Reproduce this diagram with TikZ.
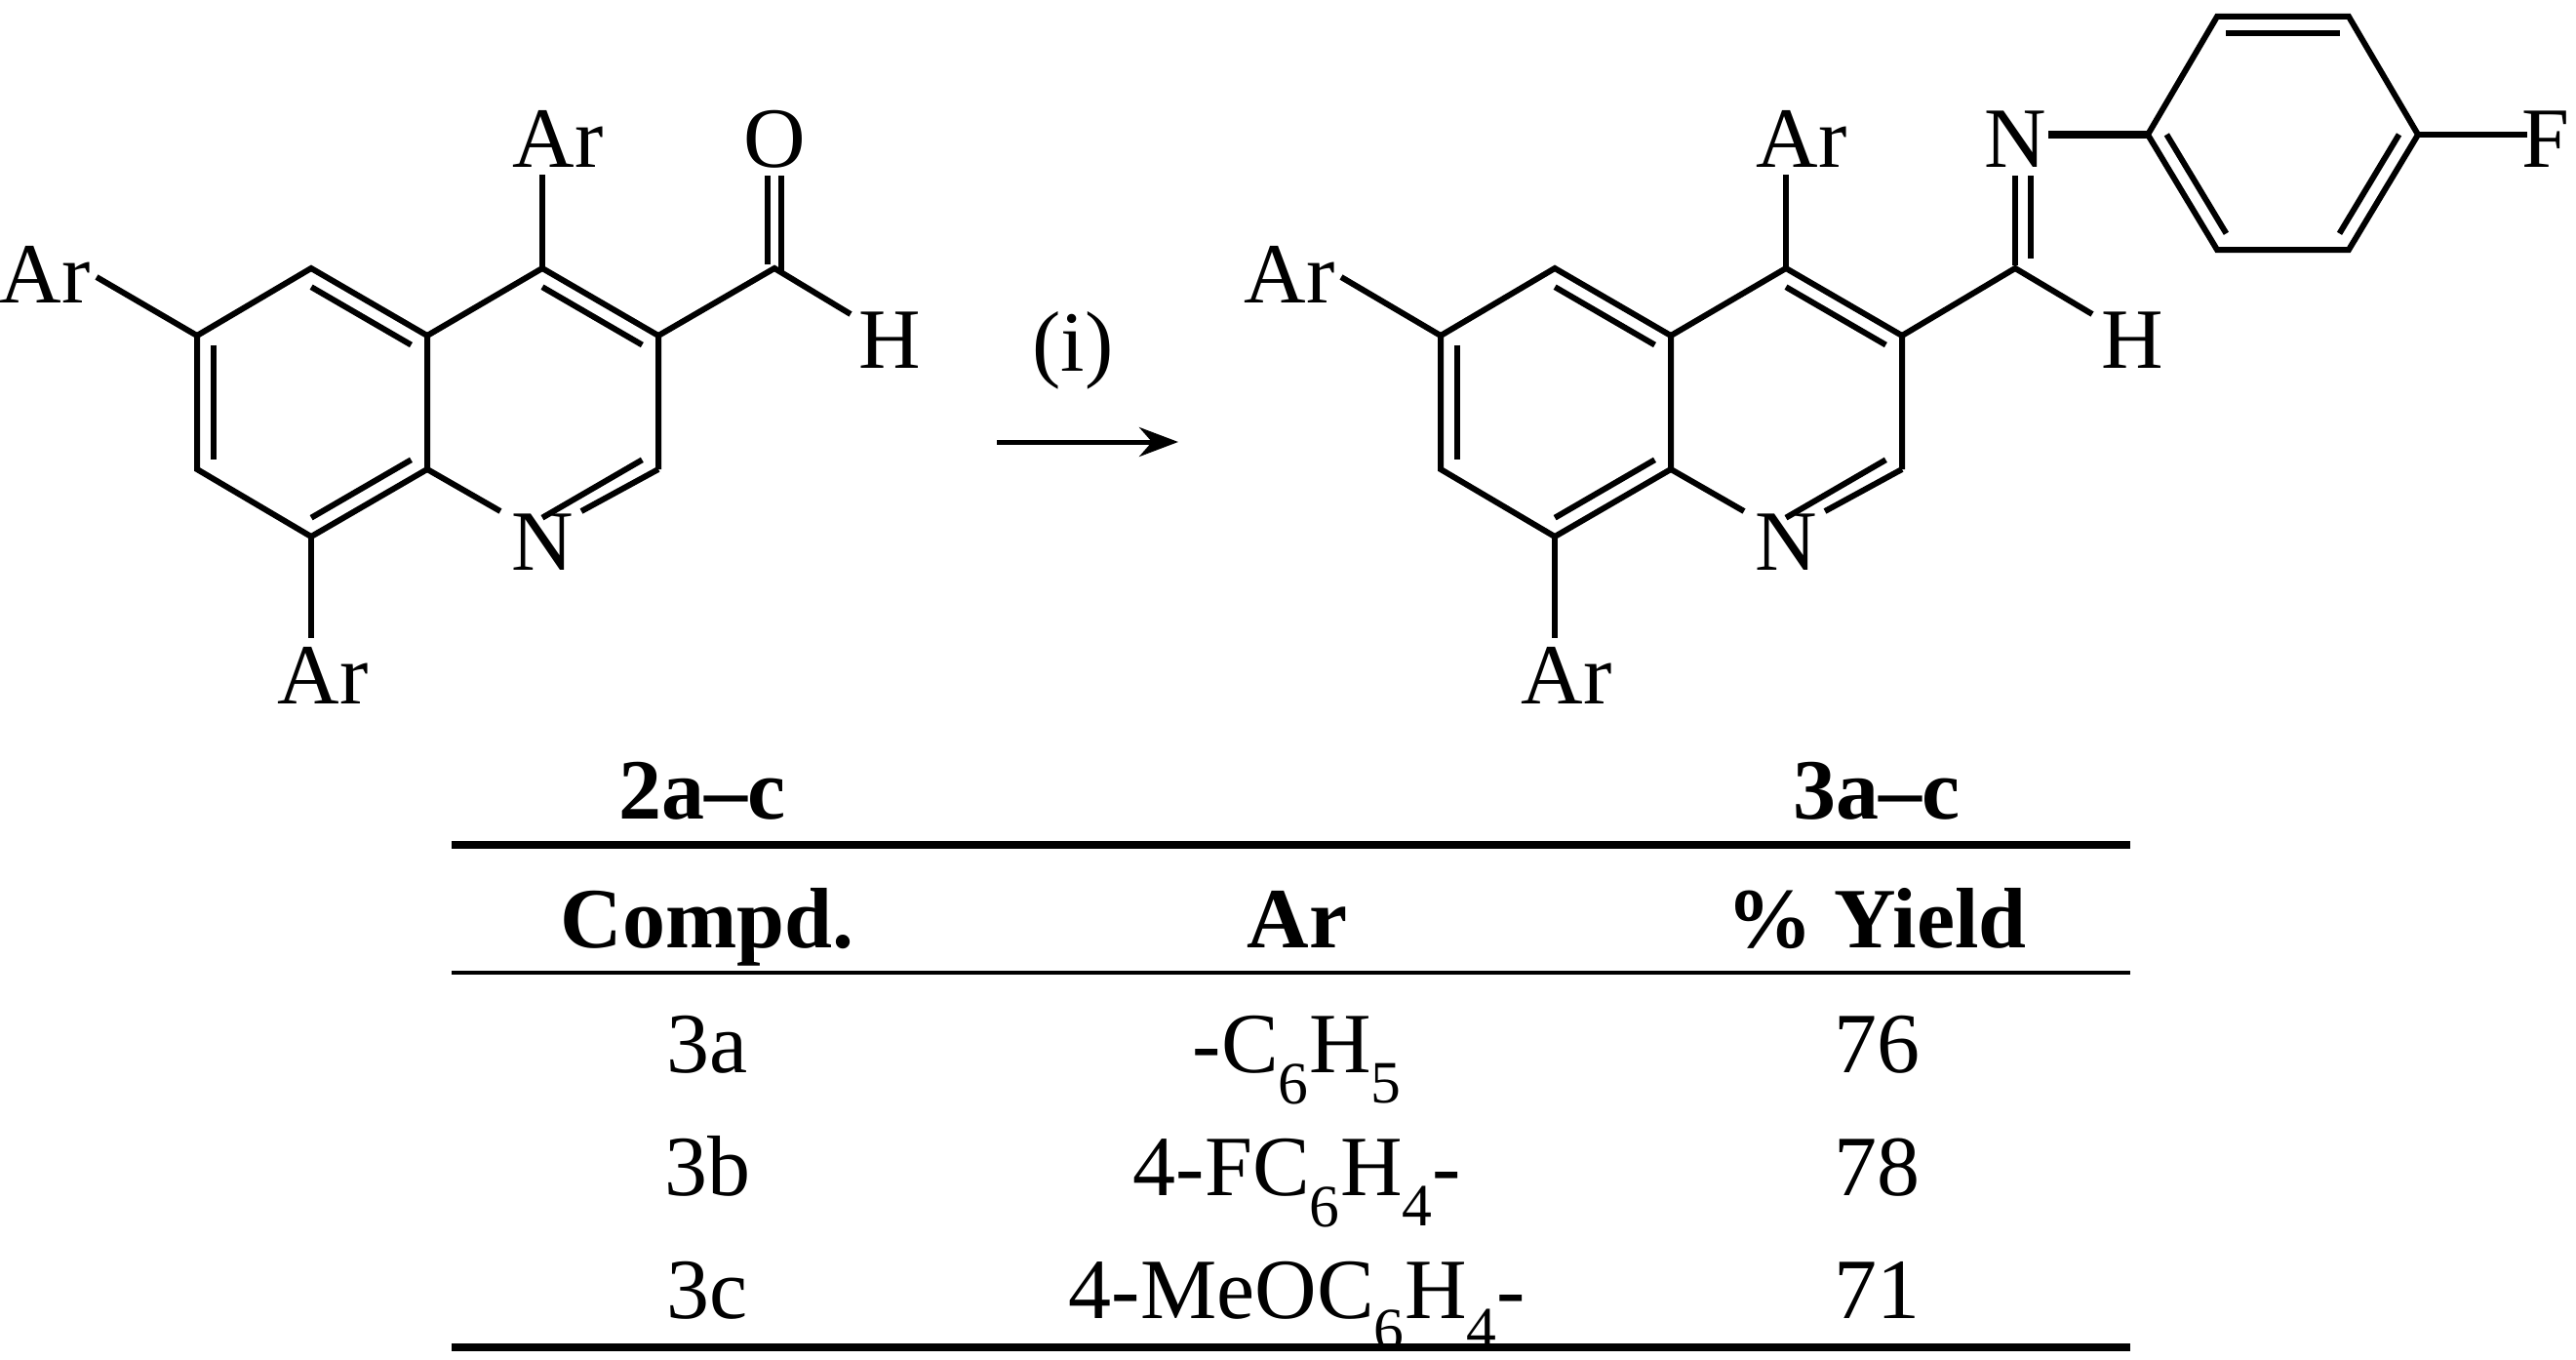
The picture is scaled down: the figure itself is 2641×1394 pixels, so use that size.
\documentclass[tikz,border=0pt]{standalone}
\usepackage{fontspec}
\setmainfont{Liberation Serif}
\usetikzlibrary{calc,arrows.meta}
\tikzset{bond/.style={line width=6pt,line cap=butt},
 lab/.style={font=\fontsize{88}{100}\selectfont,anchor=base,inner sep=0pt},
 blab/.style={lab,font=\fontsize{88}{100}\selectfont\bfseries}}
\newcommand\inner[3]{\draw[bond] ($(#3)!0.86!(#1)$) -- ($(#3)!0.86!(#2)$);}
\newcommand\quinol[2]{%
 \begin{scope}[shift={(#2,0)}]
 \coordinate (#1c5) at (319,275); \coordinate (#1c6) at (202,344);
 \coordinate (#1c7) at (202,481); \coordinate (#1c8) at (319,550);
 \coordinate (#1c8a) at (438,481); \coordinate (#1c4a) at (438,344);
 \coordinate (#1c4) at (556,275); \coordinate (#1c3) at (675,344);
 \coordinate (#1c2) at (675,481); \coordinate (#1n) at (556,550);
 \coordinate (#1ca) at (320,412); \coordinate (#1cb) at (556,412);
 \node[lab] (#1nl) at (556,584) {N};
 \node[lab] (#1ar4) at (572,171) {Ar};
 \node[lab] (#1ar8) at (331,721) {Ar};
 \coordinate (#1e4) at (556,179); \coordinate (#1e8) at (319,654);
 \coordinate (#1n1) at (513,524); \coordinate (#1n2) at (596,524);
 \draw[bond,line join=miter] (#1c4a) -- (#1c5) -- (#1c6) -- (#1c7) -- (#1c8) -- (#1c8a) -- cycle;
 \draw[bond,line join=miter] (#1c4a) -- (#1c4) -- (#1c3) -- (#1c2);
 \draw[bond] (#1c8a) -- (#1n1); \draw[bond] (#1c2) -- (#1n2);
 \inner{#1c5}{#1c4a}{#1ca} \inner{#1c6}{#1c7}{#1ca} \inner{#1c8}{#1c8a}{#1ca}
 \inner{#1c4}{#1c3}{#1cb} \inner{#1c2}{#1n}{#1cb}
 \draw[bond] (#1c4) -- (#1e4); \draw[bond] (#1c8) -- (#1e8);
 \end{scope}}
\begin{document}
\begin{tikzpicture}[x=1pt,y=-1pt]
\useasboundingbox (0,0) rectangle (2641,1394);
\fill[white] (0,0) rectangle (2641,1394);
% left molecule
\quinol{a}{0}
\node[lab] (aar6) at (46,310) {Ar};
\coordinate (ae6) at (99,284);
\draw[bond] (ac6) -- (ae6);
\coordinate (acho) at (794,275);
\node[lab] (ao) at (794,171) {O};
\node[lab] (ah) at (912,377) {H};
\coordinate (aoe1) at (787,180); \coordinate (aoe2) at (801,180);
\coordinate (ac1) at (787,271); \coordinate (ac2) at (801,280);
\coordinate (ahe) at (872,322);
\draw[bond,line join=miter] (ac3) -- (acho) -- (ahe);
\draw[bond] (ac1) -- (aoe1); \draw[bond] (ac2) -- (aoe2);
% arrow
\coordinate (arS) at (1022,453); \coordinate (arE) at (1208,453);
\draw[line width=5pt,-{Stealth[length=40pt,width=30pt]}] (arS) -- (arE);
\node[lab] (cond) at (1100,380) {(i)};
% right molecule
\quinol{b}{1275}
\node[lab] (bar6) at (1322,310) {Ar};
\coordinate (be6) at (1375,284);
\draw[bond] (bc6) -- (be6);
\coordinate (bch) at (2066,275);
\node[lab] (bni) at (2066,171) {N};
\node[lab] (bh) at (2186,377) {H};
\coordinate (bne1) at (2066,180); \coordinate (bne2) at (2082,180);
\coordinate (bc1) at (2066,272); \coordinate (bc2) at (2082,265);
\coordinate (bhe) at (2145,322);
\draw[bond,line join=miter] (bc3) -- (bch) -- (bhe);
\draw[bond] (bc1) -- (bne1); \draw[bond] (bc2) -- (bne2);
% phenyl
\coordinate (p1) at (2202,138); \coordinate (p2) at (2273,17);
\coordinate (p3) at (2408,17); \coordinate (p4) at (2479,138);
\coordinate (p5) at (2408,256); \coordinate (p6) at (2273,256);
\coordinate (pc) at (2340,137);
\coordinate (nbe) at (2100,138); \coordinate (fbe) at (2591,138);
\draw[bond,line join=miter] (p1) -- (p2) -- (p3) -- (p4) -- (p5) -- (p6) -- cycle;
\inner{p2}{p3}{pc} \inner{p1}{p6}{pc} \inner{p4}{p5}{pc}
\draw[line width=8pt] (nbe) -- (p1);
\draw[bond] (p4) -- (fbe);
\node[lab] (fl) at (2610,171) {F};
% table
\node[blab] (t2) at (720,839) {2a–c};
\node[blab] (t3) at (1924,839) {3a–c};
\coordinate (r1a) at (463,866); \coordinate (r1b) at (2184,866);
\coordinate (r2a) at (463,997); \coordinate (r2b) at (2184,997);
\coordinate (r3a) at (463,1381); \coordinate (r3b) at (2184,1381);
\draw[line width=8pt] (r1a) -- (r1b);
\draw[line width=4pt] (r2a) -- (r2b);
\draw[line width=8pt] (r3a) -- (r3b);
\node[blab] (h1) at (725,971) {Compd.};
\node[blab] (h2) at (1330,971) {Ar};
\node[blab] (h3) at (1924,971) {\% Yield};
\node[lab] (a1) at (725,1099) {3a};
\node[lab] (a2) at (1330,1099) {-C\textsubscript{6}H\textsubscript{5}};
\node[lab] (a3) at (1924,1099) {76};
\node[lab] (b1) at (725,1225) {3b};
\node[lab] (b2) at (1330,1225) {4-FC\textsubscript{6}H\textsubscript{4}-};
\node[lab] (b3) at (1924,1225) {78};
\node[lab] (c1) at (725,1351) {3c};
\node[lab] (c2) at (1330,1351) {4-MeOC\textsubscript{6}H\textsubscript{4}-};
\node[lab] (c3) at (1924,1351) {71};
\end{tikzpicture}
\end{document}
